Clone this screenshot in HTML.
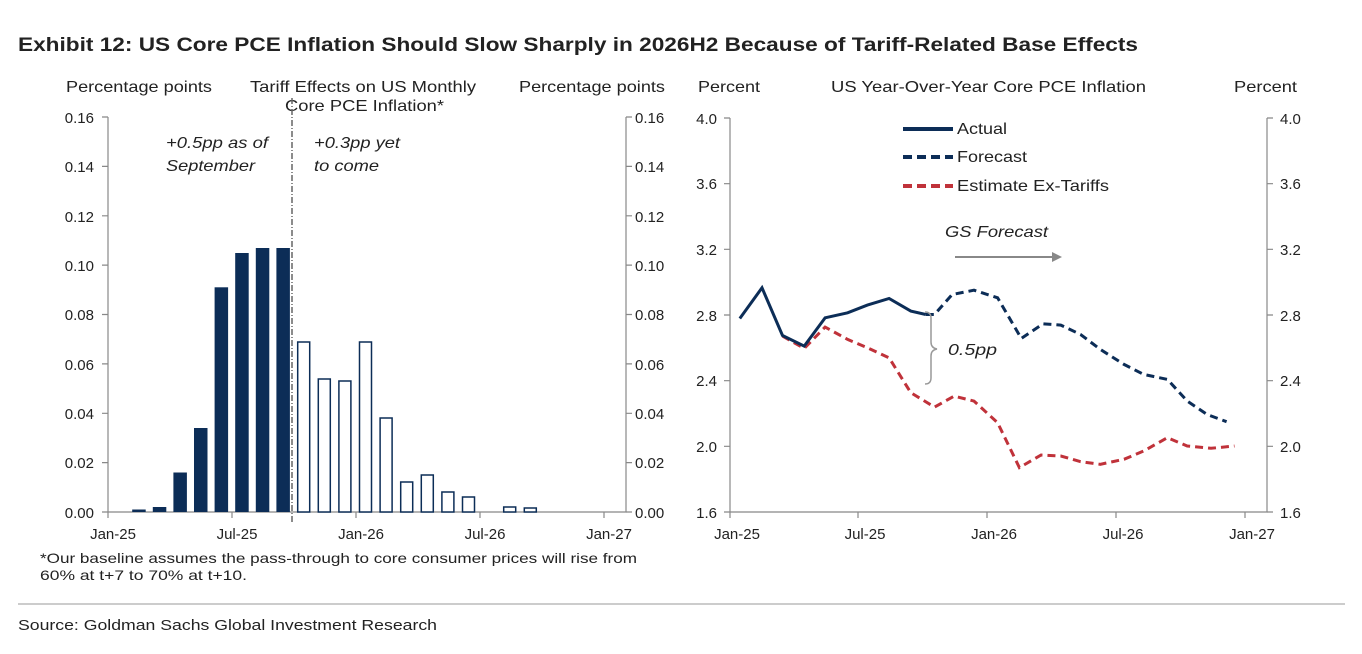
<!DOCTYPE html>
<html><head><meta charset="utf-8"><style>
body{margin:0;background:#fff;}
svg{display:block;font-family:"Liberation Sans",Arial,sans-serif;}
</style></head><body>
<svg width="1362" height="654" viewBox="0 0 1362 654">
<text x="18" y="51" font-size="19" font-weight="bold" fill="#222" textLength="1120" lengthAdjust="spacingAndGlyphs">Exhibit 12: US Core PCE Inflation Should Slow Sharply in 2026H2 Because of Tariff-Related Base Effects</text>
<g font-size="16" fill="#222" lengthAdjust="spacingAndGlyphs">
<text x="66" y="92" textLength="146" lengthAdjust="spacingAndGlyphs">Percentage points</text>
<text x="250" y="92" textLength="226" lengthAdjust="spacingAndGlyphs">Tariff Effects on US Monthly</text>
<text x="285" y="111" textLength="159" lengthAdjust="spacingAndGlyphs">Core PCE Inflation*</text>
<text x="519" y="92" textLength="146" lengthAdjust="spacingAndGlyphs">Percentage points</text>
<text x="698" y="92" textLength="62" lengthAdjust="spacingAndGlyphs">Percent</text>
<text x="831" y="92" textLength="315" lengthAdjust="spacingAndGlyphs">US Year-Over-Year Core PCE Inflation</text>
<text x="1234" y="92" textLength="63" lengthAdjust="spacingAndGlyphs">Percent</text>
</g>
<!-- left chart axes -->
<g stroke="#888" stroke-width="1.2" fill="none">
<path d="M108,117V512H626V117"/>
<path d="M102,117H108M102,166.4H108M102,215.8H108M102,265.1H108M102,314.5H108M102,363.9H108M102,413.3H108M102,462.6H108M102,512H108"/>
<path d="M626,117H632M626,166.4H632M626,215.8H632M626,265.1H632M626,314.5H632M626,363.9H632M626,413.3H632M626,462.6H632M626,512H632"/>
<path d="M108,512V518M232,512V518M356,512V518M480,512V518M604,512V518"/>
</g>
<g font-size="15" fill="#222" text-anchor="end">
<text x="94" y="123">0.16</text><text x="94" y="172">0.14</text><text x="94" y="222">0.12</text><text x="94" y="271">0.10</text><text x="94" y="320">0.08</text><text x="94" y="370">0.06</text><text x="94" y="419">0.04</text><text x="94" y="468">0.02</text><text x="94" y="518">0.00</text>
</g>
<g font-size="15" fill="#222">
<text x="635" y="123">0.16</text><text x="635" y="172">0.14</text><text x="635" y="222">0.12</text><text x="635" y="271">0.10</text><text x="635" y="320">0.08</text><text x="635" y="370">0.06</text><text x="635" y="419">0.04</text><text x="635" y="468">0.02</text><text x="635" y="518">0.00</text>
</g>
<g font-size="15" fill="#222" text-anchor="middle">
<text x="113" y="539">Jan-25</text><text x="237" y="539">Jul-25</text><text x="361" y="539">Jan-26</text><text x="485" y="539">Jul-26</text><text x="609" y="539">Jan-27</text>
</g>
<!-- bars -->
<g fill="#0c2d57">
<rect x="132.2" y="509.5" width="13.5" height="2.5"/>
<rect x="152.8" y="507" width="13.5" height="5"/>
<rect x="173.4" y="472.5" width="13.5" height="39.5"/>
<rect x="194" y="428" width="13.5" height="84"/>
<rect x="214.6" y="287.3" width="13.5" height="224.7"/>
<rect x="235.2" y="253" width="13.5" height="259"/>
<rect x="255.8" y="248" width="13.5" height="264"/>
<rect x="276.4" y="248" width="13.5" height="264"/>
</g>
<g fill="#fff" stroke="#0c2d57" stroke-width="1.5">
<rect x="297.7" y="342" width="12" height="170"/>
<rect x="318.3" y="379" width="12" height="133"/>
<rect x="338.9" y="381" width="12" height="131"/>
<rect x="359.5" y="342" width="12" height="170"/>
<rect x="380.1" y="418" width="12" height="94"/>
<rect x="400.7" y="482" width="12" height="30"/>
<rect x="421.3" y="475" width="12" height="37"/>
<rect x="441.9" y="492" width="12" height="20"/>
<rect x="462.5" y="497" width="12" height="15"/>
<rect x="503.7" y="507" width="12" height="5"/>
<rect x="524.3" y="508" width="12" height="4"/>
</g>
<path d="M292,98V522" stroke="#666" stroke-width="1.5" stroke-dasharray="6,2,1,2"/>
<g font-size="16" fill="#222" font-style="italic">
<text x="166" y="148" textLength="102" lengthAdjust="spacingAndGlyphs">+0.5pp as of</text><text x="166" y="171" textLength="89" lengthAdjust="spacingAndGlyphs">September</text>
<text x="314" y="148" textLength="86" lengthAdjust="spacingAndGlyphs">+0.3pp yet</text><text x="314" y="171" textLength="65" lengthAdjust="spacingAndGlyphs">to come</text>
</g>
<g font-size="14" fill="#222">
<text x="40" y="563" textLength="597" lengthAdjust="spacingAndGlyphs">*Our baseline assumes the pass-through to core consumer prices will rise from</text>
<text x="40" y="580" textLength="207" lengthAdjust="spacingAndGlyphs">60% at t+7 to 70% at t+10.</text>
</g>
<!-- right chart -->
<g stroke="#888" stroke-width="1.2" fill="none">
<path d="M730,118V512H1267V118"/>
<path d="M724,118H730M724,183.7H730M724,249.3H730M724,315H730M724,380.7H730M724,446.3H730M724,512H730"/>
<path d="M1267,118H1273M1267,183.7H1273M1267,249.3H1273M1267,315H1273M1267,380.7H1273M1267,446.3H1273M1267,512H1273"/>
<path d="M730,512V518M858,512V518M987,512V518M1116,512V518M1245,512V518"/>
</g>
<g font-size="15" fill="#222" text-anchor="end">
<text x="717" y="124">4.0</text><text x="717" y="189">3.6</text><text x="717" y="255">3.2</text><text x="717" y="321">2.8</text><text x="717" y="386">2.4</text><text x="717" y="452">2.0</text><text x="717" y="518">1.6</text>
</g>
<g font-size="15" fill="#222">
<text x="1280" y="124">4.0</text><text x="1280" y="189">3.6</text><text x="1280" y="255">3.2</text><text x="1280" y="321">2.8</text><text x="1280" y="386">2.4</text><text x="1280" y="452">2.0</text><text x="1280" y="518">1.6</text>
</g>
<g font-size="15" fill="#222" text-anchor="middle">
<text x="737" y="539">Jan-25</text><text x="865" y="539">Jul-25</text><text x="994" y="539">Jan-26</text><text x="1123" y="539">Jul-26</text><text x="1252" y="539">Jan-27</text>
</g>
<polyline fill="none" stroke="#c0323a" stroke-width="3" stroke-dasharray="8,5" points="782.5,336.1 804.2,348.4 825.1,327.1 847.6,339.4 867.4,347.8 889.1,357.8 910.8,392.7 934.5,407.1 954.2,396.1 974,401.1 997.6,422.7 1019.4,467.6 1041.1,455 1060.8,456 1080.6,461.7 1100.3,464.3 1124,459.3 1143.7,451 1167.4,437.7 1187.2,446 1211,448.3 1234.5,446"/>
<polyline fill="none" stroke="#0c2d57" stroke-width="3" stroke-dasharray="8,5" points="925.8,314.5 934.5,314.5 952.2,294.5 974,290.2 997.6,297.8 1021.3,338.4 1043,323.8 1060.8,325.1 1080.6,334.5 1100.3,349.4 1124,364.4 1143.7,374.4 1167.4,379.4 1187.2,401 1206.9,414.4 1226.6,421.7"/>
<polyline fill="none" stroke="#0c2d57" stroke-width="3" points="739.8,318.5 762,287.8 782.5,335.5 804.2,346.1 825.1,317.8 847.6,312.8 867.4,305.1 889.1,298.5 910.8,311.1 925.8,314.5"/>
<!-- legend -->
<line x1="903" y1="129" x2="953" y2="129" stroke="#0c2d57" stroke-width="4"/>
<line x1="903" y1="157" x2="953" y2="157" stroke="#0c2d57" stroke-width="4" stroke-dasharray="9,5"/>
<line x1="903" y1="186" x2="953" y2="186" stroke="#c0323a" stroke-width="4" stroke-dasharray="9,5"/>
<g font-size="16" fill="#222">
<text x="957" y="134" textLength="50" lengthAdjust="spacingAndGlyphs">Actual</text><text x="957" y="162" textLength="70" lengthAdjust="spacingAndGlyphs">Forecast</text><text x="957" y="191" textLength="152" lengthAdjust="spacingAndGlyphs">Estimate Ex-Tariffs</text>
</g>
<text x="945" y="237" font-size="16" font-style="italic" fill="#222" textLength="103" lengthAdjust="spacingAndGlyphs">GS Forecast</text>
<path d="M955,257H1055" stroke="#888" stroke-width="2"/>
<path d="M1052,252L1062,257L1052,262Z" fill="#888"/>
<path d="M925,312q6,0 6,6V342q0,6 6,7q-6,1 -6,7V378q0,6 -6,6" fill="none" stroke="#999" stroke-width="1.5"/>
<text x="948" y="355" font-size="16" font-style="italic" fill="#222" textLength="49" lengthAdjust="spacingAndGlyphs">0.5pp</text>
<line x1="18" y1="604" x2="1345" y2="604" stroke="#999" stroke-width="1"/>
<text x="18" y="630" font-size="15" fill="#222" textLength="419" lengthAdjust="spacingAndGlyphs">Source: Goldman Sachs Global Investment Research</text>
</svg>
</body></html>
